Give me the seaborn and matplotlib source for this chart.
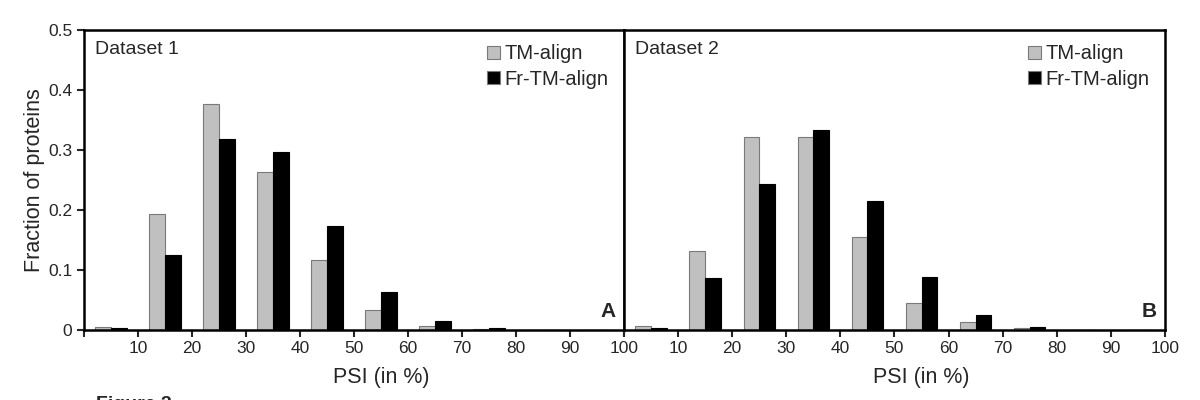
import numpy as np
import pandas as pd
import seaborn as sns
import matplotlib.pyplot as plt

# bin centers of PSI (in %), 10-wide bins
bins = [5, 15, 25, 35, 45, 55, 65, 75, 85, 95]
methods = ['TM-align', 'Fr-TM-align']

ds1_tm = [0.0045, 0.193, 0.377, 0.263, 0.117, 0.033, 0.007, 0.001, 0.0, 0.0]
ds1_fr = [0.003, 0.125, 0.318, 0.297, 0.173, 0.063, 0.015, 0.003, 0.0, 0.0]
ds2_tm = [0.007, 0.132, 0.322, 0.322, 0.155, 0.045, 0.013, 0.003, 0.0005, 0.0]
ds2_fr = [0.003, 0.087, 0.244, 0.333, 0.215, 0.088, 0.025, 0.005, 0.0, 0.0]

panels = [('Dataset 1', 'A', ds1_tm, ds1_fr), ('Dataset 2', 'B', ds2_tm, ds2_fr)]

sns.set_style('ticks')
plt.rcParams['font.family'] = ['Liberation Sans', 'DejaVu Sans']

fig = plt.figure(figsize=(12, 4), dpi=100)
ax1 = fig.add_axes([0.07, 0.175, 0.45, 0.75])
ax2 = fig.add_axes([0.52, 0.175, 0.4508, 0.75], sharey=ax1)

palette = {'TM-align': '#c0c0c0', 'Fr-TM-align': '#000000'}

for ax, (name, letter, tm, fr) in zip([ax1, ax2], panels):
    df = pd.DataFrame({
        'psi': bins * 2,
        'frac': tm + fr,
        'method': [methods[0]] * len(bins) + [methods[1]] * len(bins),
    })
    sns.barplot(data=df, x='psi', y='frac', hue='method', hue_order=methods,
                palette=palette, native_scale=True, width=0.58, gap=0,
                saturation=1, edgecolor='#7a7a7a', linewidth=0.8, ax=ax)
    for p in ax.patches[len(bins):2 * len(bins)]:
        p.set_edgecolor('black')
    ax.set_xlim(0, 100)
    ax.set_ylim(0, 0.5)
    ax.set_xticks(range(0, 101, 10))
    ax.set_xticklabels([''] + [str(v) for v in range(10, 101, 10)], fontsize=12.5)
    ax.tick_params(axis='x', direction='out', length=5, width=1.5, pad=3)
    for s in ax.spines.values():
        s.set_visible(True)
        s.set_linewidth(1.8)
        s.set_color('black')
    ax.set_xlabel('PSI (in %)', fontsize=15.5)
    ax.xaxis.set_label_coords(0.55, -0.125)
    ax.set_ylabel('')
    ax.text(0.02, 0.965, name, transform=ax.transAxes, fontsize=14,
            ha='left', va='top')
    ax.text(0.985, 0.03, letter, transform=ax.transAxes, fontsize=15,
            fontweight='bold', ha='right', va='bottom')
    leg = ax.legend(loc='upper right', bbox_to_anchor=(0.994, 0.992), frameon=False,
                    fontsize=14.5, handlelength=0.65, handleheight=0.65,
                    handletextpad=0.25, labelspacing=0.3, borderaxespad=0.2)

ax1.set_yticks([0, 0.1, 0.2, 0.3, 0.4, 0.5])
ax1.set_yticklabels(['0', '0.1', '0.2', '0.3', '0.4', '0.5'], fontsize=12.5)
ax1.tick_params(axis='y', direction='out', length=5, width=1.5)
ax1.set_ylabel('Fraction of proteins', fontsize=15.5, labelpad=2)
ax2.tick_params(axis='y', left=False, labelleft=False)

fig.text(0.08, -0.012, 'Figure 2', fontsize=14, fontweight='bold',
         ha='left', va='center')

fig.savefig('out.png', dpi=100)
